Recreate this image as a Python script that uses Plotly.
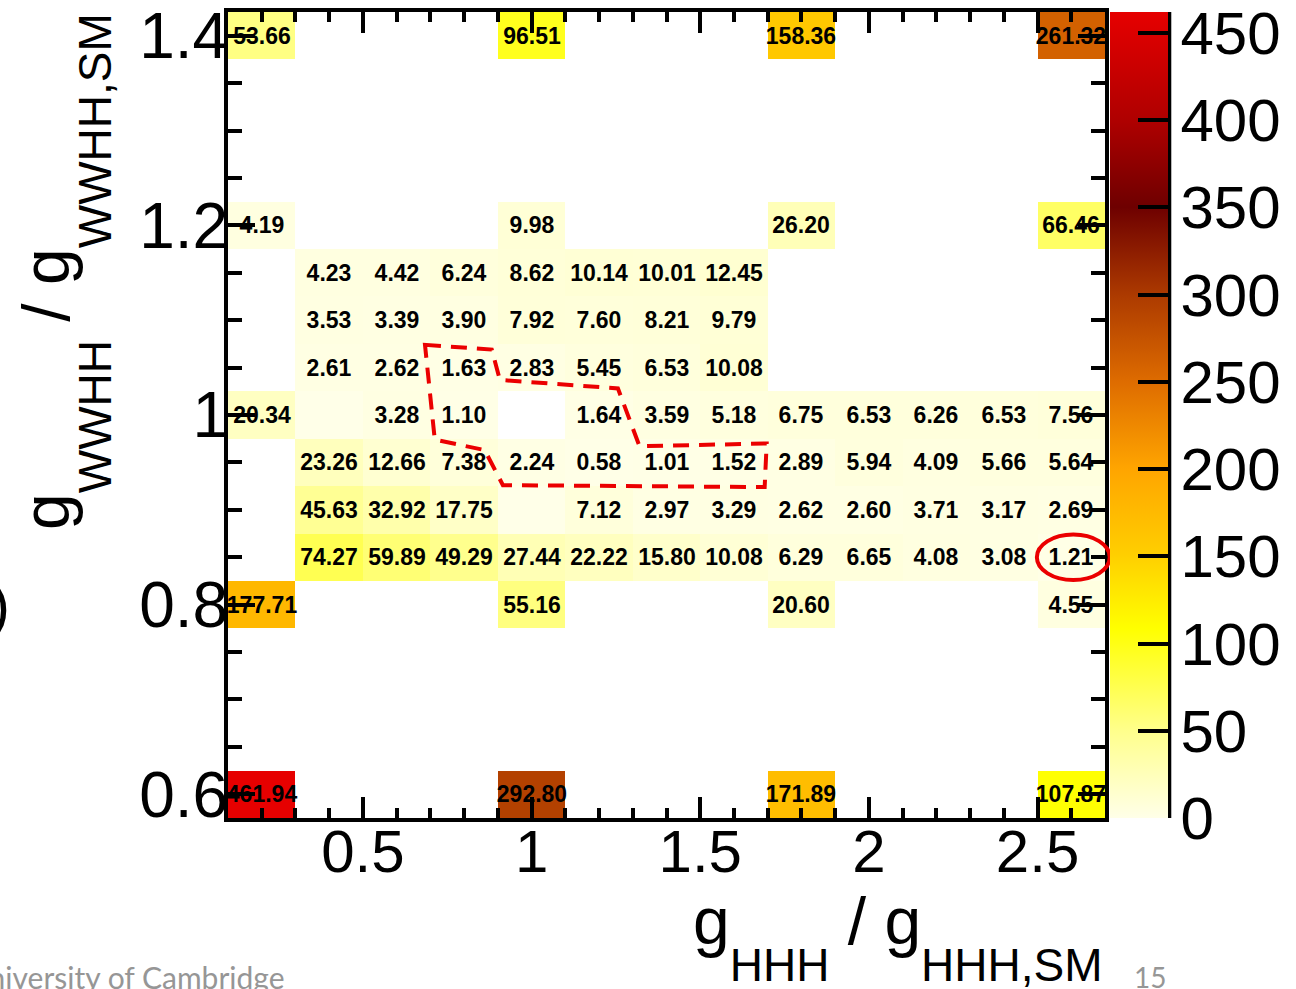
import plotly.graph_objects as go

# ---------------- data ----------------
x_centers = [0.2, 0.4, 0.6, 0.8, 1.0, 1.2, 1.4, 1.6, 1.8, 2.0, 2.2, 2.4, 2.6]
y_centers = [0.60, 0.65, 0.70, 0.75, 0.80, 0.85, 0.90, 0.95, 1.00,
             1.05, 1.10, 1.15, 1.20, 1.25, 1.30, 1.35, 1.40]

N = None
row_0_60 = [461.94, N, N, N, 292.80, N, N, N, 171.89, N, N, N, 107.87]
row_0_65 = [N] * 13
row_0_70 = [N] * 13
row_0_75 = [N] * 13
row_0_80 = [177.71, N, N, N, 55.16, N, N, N, 20.60, N, N, N, 4.55]
row_0_85 = [N, 74.27, 59.89, 49.29, 27.44, 22.22, 15.80, 10.08, 6.29, 6.65, 4.08, 3.08, 1.21]
row_0_90 = [N, 45.63, 32.92, 17.75, 0.0, 7.12, 2.97, 3.29, 2.62, 2.60, 3.71, 3.17, 2.69]
row_0_95 = [N, 23.26, 12.66, 7.38, 2.24, 0.58, 1.01, 1.52, 2.89, 5.94, 4.09, 5.66, 5.64]
row_1_00 = [20.34, 0.0, 3.28, 1.10, N, 1.64, 3.59, 5.18, 6.75, 6.53, 6.26, 6.53, 7.56]
row_1_05 = [N, 2.61, 2.62, 1.63, 2.83, 5.45, 6.53, 10.08, N, N, N, N, N]
row_1_10 = [N, 3.53, 3.39, 3.90, 7.92, 7.60, 8.21, 9.79, N, N, N, N, N]
row_1_15 = [N, 4.23, 4.42, 6.24, 8.62, 10.14, 10.01, 12.45, N, N, N, N, N]
row_1_20 = [4.19, N, N, N, 9.98, N, N, N, 26.20, N, N, N, 66.46]
row_1_25 = [N] * 13
row_1_30 = [N] * 13
row_1_35 = [N] * 13
row_1_40 = [53.66, N, N, N, 96.51, N, N, N, 158.36, N, N, N, 261.32]

z_rows = [row_0_60, row_0_65, row_0_70, row_0_75, row_0_80, row_0_85, row_0_90,
          row_0_95, row_1_00, row_1_05, row_1_10, row_1_15, row_1_20, row_1_25,
          row_1_30, row_1_35, row_1_40]

x_tick_step = 0.5
y_tick_step = 0.2
cbar_ticks = [0, 50, 100, 150, 200, 250, 300, 350, 400, 450]

# highlighted region (red dashed outline) and highlighted bin (red ellipse)
outline_x = [0.684, 0.882, 0.906, 1.256, 1.320, 1.697, 1.691, 0.915, 0.861, 0.713]
outline_y = [1.074, 1.069, 1.037, 1.028, 0.967, 0.970, 0.924, 0.926, 0.963, 0.974]
ellipse_center = (2.606, 0.850)
ellipse_half = (0.108, 0.024)

X_RANGE = [0.1, 2.7]
Y_RANGE = [0.575, 1.425]
ZMAX = 461.94

# ---------------- figure ----------------
text_rows = [["" if (v is None or v == 0) else f"{v:.2f}" for v in r] for r in z_rows]

colorscale = [
    [0.0, "rgb(255,255,232)"],
    [0.108, "rgb(255,255,140)"],
    [0.235, "rgb(255,255,0)"],
    [0.33, "rgb(255,205,0)"],
    [0.433, "rgb(255,165,0)"],
    [0.541, "rgb(222,108,0)"],
    [0.649, "rgb(172,58,0)"],
    [0.758, "rgb(110,0,0)"],
    [0.866, "rgb(175,0,0)"],
    [1.0, "rgb(230,0,0)"],
]

FONT = "Liberation Sans, Arial, Helvetica, sans-serif"

fig = go.Figure()
fig.add_trace(go.Heatmap(
    x=x_centers, y=y_centers, z=z_rows, text=text_rows,
    texttemplate="<b>%{text}</b>",
    textfont=dict(family=FONT, size=23, color="black"),
    colorscale=colorscale, zmin=0, zmax=ZMAX,
    hoverongaps=False,
    colorbar=dict(
        thickness=58, thicknessmode="pixels",
        len=1, lenmode="fraction", y=0.5, yanchor="middle", ypad=0,
        x=1.0057, xanchor="left", xpad=0,
        outlinewidth=0,
        tickvals=cbar_ticks, ticks="inside", ticklen=30, tickwidth=4,
        tickcolor="black", ticklabeloverflow="allow",
        tickfont=dict(family=FONT, size=60, color="black"),
    ),
))

axis_common = dict(
    showgrid=False, zeroline=False, showline=True, linecolor="black",
    linewidth=4, mirror="ticks", ticks="inside", tickcolor="black",
    tickwidth=3.5,
)

fig.update_xaxes(range=X_RANGE, tick0=0, dtick=x_tick_step, ticklen=21,
                 ticklabelstandoff=-22,
                 tickfont=dict(family=FONT, size=60, color="black"),
                 minor=dict(dtick=0.1, tick0=0, ticks="inside", ticklen=10,
                            tickwidth=3.5, tickcolor="black", showgrid=False),
                 **axis_common)
fig.update_yaxes(range=Y_RANGE, tick0=0.6, dtick=y_tick_step, ticklen=27,
                 ticklabelstandoff=-17,
                 tickfont=dict(family=FONT, size=64, color="black"),
                 minor=dict(dtick=0.05, tick0=0.6, ticks="inside", ticklen=14,
                            tickwidth=3.5, tickcolor="black", showgrid=False),
                 **axis_common)

# dashed outline
path = "M " + " L ".join(f"{x},{y}" for x, y in zip(outline_x, outline_y)) + " Z"
fig.add_shape(type="path", path=path, xref="x", yref="y",
              line=dict(color="rgb(235,0,0)", width=4, dash="16px,10px"), layer="above")

# ellipse (paper coordinates computed from data so it is not clipped)
def xp(v):
    return (v - X_RANGE[0]) / (X_RANGE[1] - X_RANGE[0])

def yp(v):
    return (v - Y_RANGE[0]) / (Y_RANGE[1] - Y_RANGE[0])

cx, cy = ellipse_center
hx, hy = ellipse_half
fig.add_shape(type="circle", xref="paper", yref="paper",
              x0=xp(cx - hx), x1=xp(cx + hx), y0=yp(cy - hy), y1=yp(cy + hy),
              line=dict(color="rgb(235,0,0)", width=4), layer="above")

# colorbar right border line
fig.add_shape(type="line", xref="paper", yref="paper", x0=1.0733, x1=1.0733,
              y0=0, y1=1, line=dict(color="black", width=4))

# axis titles (ROOT-like low subscripts)
SUB_X = '<span style="font-size:46px;baseline-shift:-37px">{}</span>'
SUB_Y = '<span style="font-size:46px;baseline-shift:-42px">{}</span>'
x_title = "g" + SUB_X.format("HHH") + " / g" + SUB_X.format("HHH,SM")
y_title = "g" + SUB_Y.format("WWHH") + " / g" + SUB_Y.format("WWHH,SM")
fig.add_annotation(text=x_title, xref="paper", yref="paper",
                   x=1.0, y=-0.0794, xanchor="right", yanchor="top", showarrow=False,
                   font=dict(family=FONT, size=66, color="black"))
fig.add_annotation(text=y_title, xref="paper", yref="paper",
                   x=(65 - 228) / 877, y=(818 - 272) / 806, xanchor="center", yanchor="middle",
                   textangle=-90, showarrow=False,
                   font=dict(family=FONT, size=66, color="black"))

# slide footer remnants
fig.add_annotation(text="University of Cambridge", xref="paper", yref="paper",
                   x=(287 - 228) / 877, y=(818 - 977) / 806, xanchor="right", yanchor="middle",
                   showarrow=False, font=dict(family="Lato, sans-serif", size=30, color="rgb(150,150,150)"))
fig.add_annotation(text="15", xref="paper", yref="paper",
                   x=(1150 - 228) / 877, y=(818 - 977) / 806, xanchor="center", yanchor="middle",
                   showarrow=False, font=dict(family="Lato, sans-serif", size=28, color="rgb(150,150,150)"))
fig.add_annotation(text=")", xref="paper", yref="paper",
                   x=(12 - 228) / 877, y=(818 - 605) / 806, xanchor="right", yanchor="middle",
                   showarrow=False, font=dict(family=FONT, size=60, color="black"))

fig.update_layout(
    width=1296, height=989,
    margin=dict(l=228, r=191, t=12, b=171, autoexpand=False),
    paper_bgcolor="white", plot_bgcolor="white",
    showlegend=False,
)

fig.write_html("out.html", config={"displayModeBar": False},
               post_script="document.body.style.margin='0px';document.body.style.overflow='hidden';")
